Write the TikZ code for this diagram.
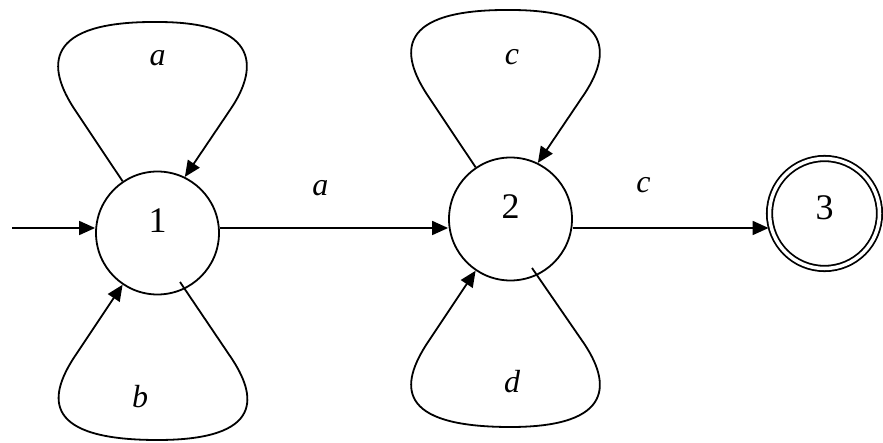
\documentclass[tikz,border=0pt]{standalone}
\usepackage{fontspec}
\setmainfont{Liberation Serif}
\usetikzlibrary{arrows.meta}

\tikzset{
  st/.style={circle, draw, line width=1.8pt, minimum size=123pt, inner sep=0pt,
             text depth=24pt, font=\fontsize{36}{40}\selectfont},
  stfinal/.style={st, double, double distance=3.5pt, minimum size=110pt, text depth=12pt},
  trans/.style={line width=1.8pt, -{Triangle[length=16pt,width=14pt]}},
  lbl/.style={font=\fontsize{32}{36}\selectfont\itshape},
}

\begin{document}
\begin{tikzpicture}[x=1pt,y=-1pt]
\useasboundingbox (0,0) rectangle (883,443);
\node[st] (s1) at (157.5,233) {1};
\node[st] (s2) at (510.5,219) {2};
\node[stfinal] (s3) at (824.5,213.5) {3};
\coordinate (in0) at (12,228);
% start arrow and the two transitions
\draw[trans] (in0) -- (in0 -| s1.west);
\draw[trans] (s1.east |- in0) -- (s2.west |- in0) node[pos=.44,yshift=40pt,lbl] {a};
\draw[trans] (s2.east |- in0) -- (s3.west |- in0) node[pos=.36,yshift=43pt,lbl] {c};
% self loops on 1
\begin{scope}[shift={(s1.center)}]
  \draw[trans] (s1.124) -- (-82.5,-123) .. controls (-111,-166) and (-115,-212) .. (0,-211)
     .. controls (105,-211) and (100,-163) .. (72.5,-123) -- (s1.64);
  \draw[trans] (22.5,49) -- (72.5,123) .. controls (100,163) and (107,207) .. (0,207)
     .. controls (-113,207) and (-111,166) .. (-82.5,123) -- (s1.-124);
  \node[lbl] (la) at (0,-175) {a};
  \node[lbl] (lb) at (-17.5,164) {b};
\end{scope}
% self loops on 2
\begin{scope}[shift={(s2.center)}]
  \draw[trans] (s2.124) -- (-82.5,-123) .. controls (-111,-166) and (-115,-210) .. (0,-209)
     .. controls (105,-209) and (100,-163) .. (72.5,-123) -- (s2.64);
  \draw[trans] (21.5,49) -- (72.5,123) .. controls (100,163) and (105,208) .. (0,208)
     .. controls (-115,208) and (-111,166) .. (-82.5,123) -- (s2.-124);
  \node[lbl] (lc) at (1.5,-162) {c};
  \node[lbl] (ld) at (1.5,163) {d};
\end{scope}
\end{tikzpicture}
\end{document}
